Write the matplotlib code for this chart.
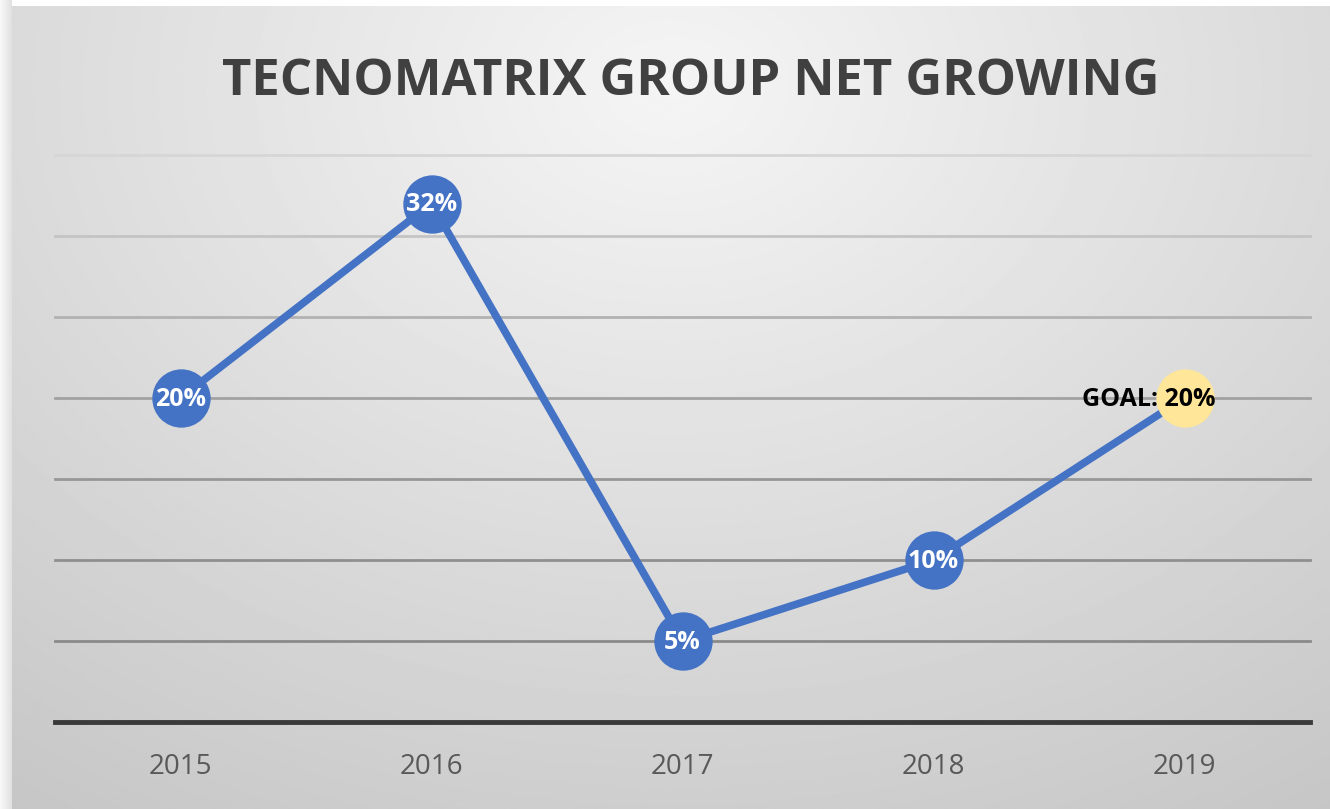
import numpy as np
import matplotlib.pyplot as plt

# chart data
years = ['2015', '2016', '2017', '2018', '2019']
growth = [20, 32, 5, 10, 20]
labels = ['20%', '32%', '5%', '10%', 'GOAL: 20%']
goal_index = 4

title = 'TECNOMATRIX GROUP NET GROWING'
blue = '#4472C4'
goal_color = '#FFE699'

plt.rcParams['font.family'] = ['Open Sans', 'DejaVu Sans']

W, H = 1330, 809
fig = plt.figure(figsize=(W / 100, H / 100), dpi=100)
fig.patch.set_facecolor('white')

# background panel with a radial gradient
bg = fig.add_axes([12 / W, 0, 1 - 12 / W, 1 - 6 / H])
bg.set_axis_off()
yy, xx = np.mgrid[0:400, 0:660]
d = np.sqrt(((xx - 330) / 700.0) ** 2 + ((yy - 40) / 520.0) ** 2)
shade = np.clip(0.96 - 0.22 * d, 0.77, 0.96)
bg.imshow(shade, cmap='gray', vmin=0, vmax=1, aspect='auto',
          extent=[0, 1, 0, 1], interpolation='bilinear')
bg.set_xlim(0, 1)
bg.set_ylim(0, 1)

# left shadow strip
sh = fig.add_axes([0, 0, 12 / W, 1])
sh.set_axis_off()
grad = np.linspace(0.97, 0.88, 12)[None, :]
sh.imshow(grad, cmap='gray', vmin=0, vmax=1, aspect='auto', extent=[0, 1, 0, 1])

ax = fig.add_axes([55 / W, 1 - 722 / H, (1310 - 55) / W, (722 - 155) / H])
ax.patch.set_alpha(0)
x = np.arange(len(years))
ax.set_xlim(-0.5, len(years) - 0.5)
ax.set_ylim(0, 35)

# grid lines get darker toward the bottom
grid_vals = [5, 10, 15, 20, 25, 30, 35]
grid_cols = ['#8a8a8a', '#8f8f8f', '#979797', '#a2a2a2', '#b2b2b2', '#c4c4c4', '#d6d6d6']
for gv, gc in zip(grid_vals, grid_cols):
    ax.axhline(gv, color=gc, lw=2, zorder=1, clip_on=False)
ax.axhline(0, color='#3a3a3a', lw=3.5, zorder=2, clip_on=False)

for s in ax.spines.values():
    s.set_visible(False)
ax.set_yticks([])
ax.set_xticks(x)
ax.set_xticklabels(years, fontsize=20, color='#595959')
ax.tick_params(axis='x', length=0, pad=22)

ax.plot(x, growth, color=blue, lw=5.5, zorder=3, solid_capstyle='round')
ax.plot(x[:goal_index], growth[:goal_index], 'o', color=blue, ms=41, zorder=4)
ax.plot(x[goal_index], growth[goal_index], 'o', color=goal_color, ms=41, zorder=4)

for i, (xi, yi, lab) in enumerate(zip(x, growth, labels)):
    if i == goal_index:
        ax.annotate(lab, (xi, yi), xytext=(22, -1), textcoords='offset points',
                    ha='right', va='center', fontsize=18, fontweight='bold',
                    color='black', zorder=5)
    else:
        ax.annotate(lab, (xi, yi), xytext=(0, -1), textcoords='offset points',
                    ha='center', va='center', fontsize=18,
                    fontweight='bold', color='white', zorder=5)

fig.text(691 / W, 1 - 82 / H, title, ha='center', va='center',
         fontsize=36.5, fontweight='bold', color='#404040')

fig.savefig('out.png', dpi=100)
